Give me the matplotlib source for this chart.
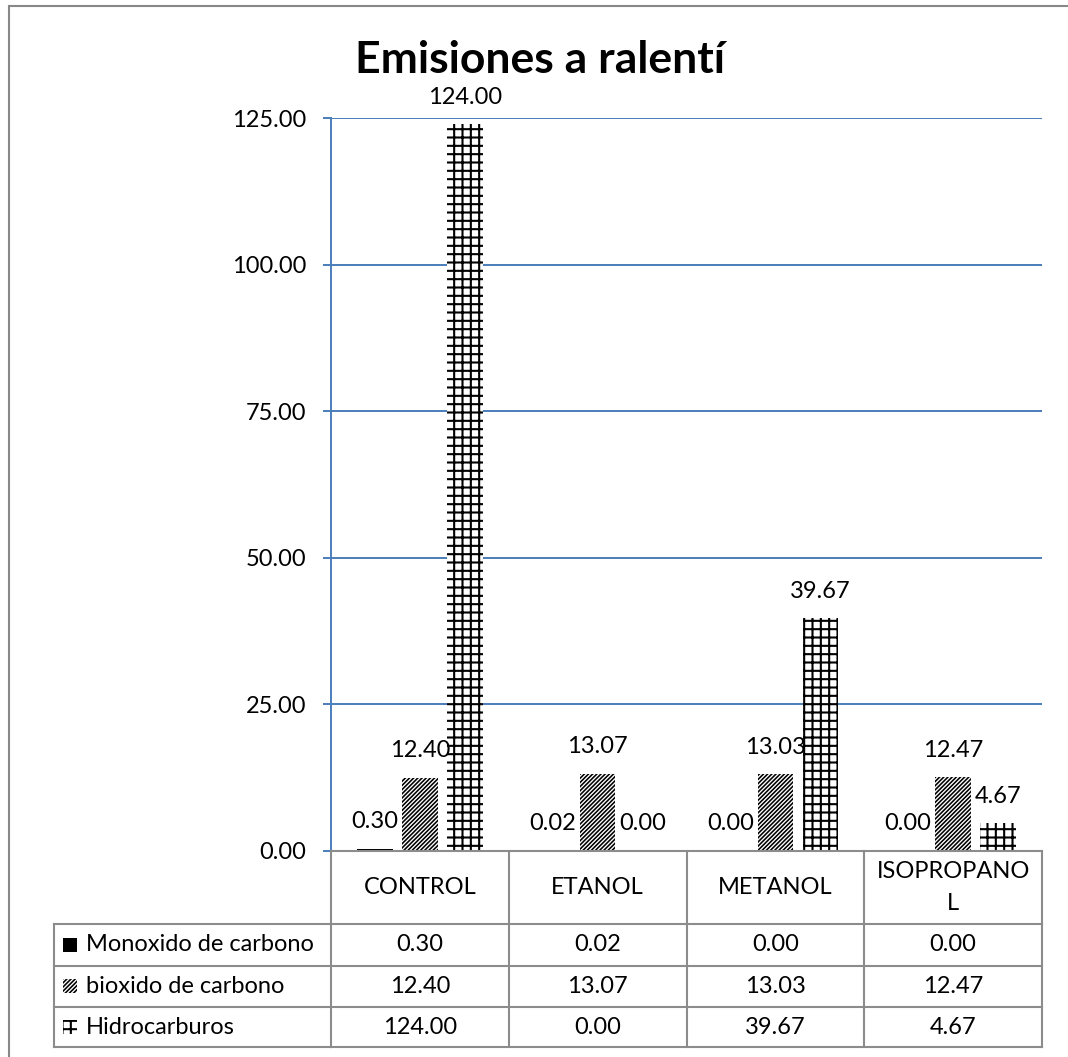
import textwrap
import matplotlib
matplotlib.use("Agg")
import matplotlib.pyplot as plt
import matplotlib.transforms as mtransforms
from matplotlib.patches import Rectangle
from matplotlib.lines import Line2D
import numpy as np

# ---- data ----
categories = ["CONTROL", "ETANOL", "METANOL", "ISOPROPANOL"]
series_names = ["Monoxido de carbono", "bioxido de carbono", "Hidrocarburos"]
monoxido = [0.30, 0.02, 0.00, 0.00]
bioxido = [12.40, 13.07, 13.03, 12.47]
hidrocarburos = [124.00, 0.00, 39.67, 4.67]
y_ticks = [0, 25, 50, 75, 100, 125]
title = "Emisiones a ralentí"

series_values = [monoxido, bioxido, hidrocarburos]
series_hatch = [None, "////////", "++"]
series_hatch_lw = [1.0, 1.15, 1.5]

FONT = "Lato"
plt.rcParams["font.family"] = [FONT, "DejaVu Sans"]
plt.rcParams["hatch.linewidth"] = 1.4
BLUE = "#4A7EBB"
GRAY = "#8C8C8C"
FS = 17

W, H = 1068, 1057
fig = plt.figure(figsize=(W / 100, H / 100), dpi=100)


def fx(px):
    return px / W


def fy(py):
    return 1 - py / H


ax_left, ax_right, ax_top, ax_bottom = 331, 1042, 118.3, 850.5
ax = fig.add_axes([fx(ax_left), fy(ax_bottom), fx(ax_right - ax_left),
                   (ax_bottom - ax_top) / H])

x = np.arange(len(categories))
bar_w = 0.2
step = 0.253
for i, vals in enumerate(series_values):
    offs = (i - 1) * step
    bars = ax.bar(x + offs, vals, width=bar_w, color="black" if series_hatch[i] is None else "white",
                  edgecolor="black", linewidth=0, hatch=series_hatch[i], zorder=3)
    for b in bars:
        if hasattr(b, "set_hatch_linewidth"):
            b.set_hatch_linewidth(series_hatch_lw[i])
    for xi, v in zip(x + offs, vals):
        ax.annotate(f"{v:.2f}", (xi, v), xytext=(0, 19.5), textcoords="offset points",
                    ha="center", va="center", fontsize=FS, zorder=5)

ax.set_xlim(-0.5, len(categories) - 0.5)
ax.set_ylim(y_ticks[0], y_ticks[-1])
ax.set_yticks(y_ticks)
ax.set_yticklabels([f"{t:.2f}" for t in y_ticks], fontsize=FS)
ax.set_xticks([])
ax.tick_params(axis="y", direction="out", length=5.8, width=1.4, color=BLUE, pad=12)
for s in ["top", "right", "bottom"]:
    ax.spines[s].set_visible(False)
ax.spines["left"].set_color(BLUE)
ax.spines["left"].set_linewidth(1.4)
ax.yaxis.grid(True, color=BLUE, linewidth=1.4, zorder=0)
ax.set_axisbelow(True)

fig.text(fx(540), fy(60), title, ha="center", va="center", fontsize=32, fontweight="bold")

# ---- data table under the plot ----
trans = mtransforms.blended_transform_factory(ax.transData, fig.transFigure)
row_y = [fy(851), fy(924), fy(965.7), fy(1006.7), fy(1047.3)]
n = len(categories)
line_kw = dict(color=GRAY, linewidth=1.5, clip_on=False, zorder=6, solid_capstyle="projecting")

# horizontal lines over the category columns
for ry in row_y:
    ax.add_line(Line2D([-0.5, n - 0.5], [ry, ry], transform=trans, **line_kw))
# horizontal lines over the series-name column
for ry in row_y[1:]:
    fig.add_artist(Line2D([fx(54), fx(ax_left)], [ry, ry], **line_kw))
# vertical lines
for k in range(n + 1):
    ax.add_line(Line2D([k - 0.5, k - 0.5], [row_y[0], row_y[-1]], transform=trans, **line_kw))
fig.add_artist(Line2D([fx(54), fx(54)], [row_y[1], row_y[-1]], **line_kw))

# header cells
for k, cat in enumerate(categories):
    ax.text(k, (row_y[0] + row_y[1]) / 2, textwrap.fill(cat, 10), transform=trans,
            ha="center", va="center", fontsize=FS, linespacing=1.6, clip_on=False)

# value rows with legend keys
for r, (name, vals) in enumerate(zip(series_names, series_values)):
    yc = (row_y[r + 1] + row_y[r + 2]) / 2
    key = 14
    rect = Rectangle((fx(63), yc - key / 2 / H), key / W, key / H, transform=fig.transFigure,
                     facecolor="black" if series_hatch[r] is None else "white",
                     edgecolor="black", linewidth=0, hatch=series_hatch[r])
    if hasattr(rect, "set_hatch_linewidth"):
        rect.set_hatch_linewidth(series_hatch_lw[r])
    fig.add_artist(rect)
    fig.text(fx(86), yc, name, ha="left", va="center", fontsize=FS)
    for k, v in enumerate(vals):
        ax.text(k, yc, f"{v:.2f}", transform=trans, ha="center", va="center",
                fontsize=FS, clip_on=False)

# chart area border
fig.add_artist(Rectangle((fx(8.5), -0.1), 1.2, fy(6) + 0.1, transform=fig.transFigure,
                         facecolor="none", edgecolor="#888888", linewidth=1.5))

fig.savefig("out.png", dpi=100)
